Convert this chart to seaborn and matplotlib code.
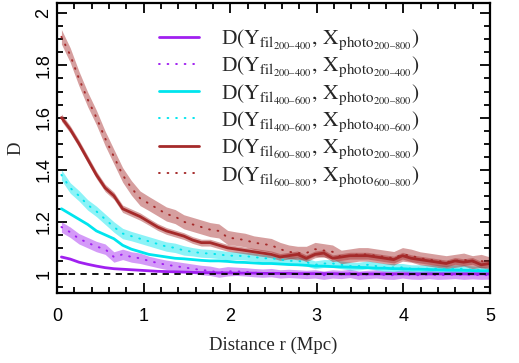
import numpy as np
import pandas as pd
import matplotlib
matplotlib.use("Agg")
import matplotlib.pyplot as plt
import seaborn as sns
from matplotlib.ticker import MultipleLocator

# Distance grid (Mpc)
r = np.linspace(0.05, 5.0, 50)

# D(Y_fil 200-400, X_photo 200-800) - purple solid
ps = [1.065, 1.057, 1.045, 1.037, 1.030, 1.024, 1.020, 1.018, 1.016, 1.014,
      1.012, 1.010, 1.009, 1.008, 1.007, 1.006, 1.005, 1.005, 1.004, 1.004,
      1.003, 1.003, 1.003, 1.002, 1.002, 1.002, 1.002, 1.001, 1.001, 1.001,
      1.001, 1.001, 1.000, 1.000, 1.000, 1.000, 1.000, 1.000, 1.000, 1.000,
      1.000, 1.000, 1.000, 1.000, 1.000, 1.000, 1.000, 1.000, 1.000, 1.000]
# D(Y_fil 200-400, X_photo 200-400) - purple dotted
pd_ = [1.180, 1.160, 1.135, 1.120, 1.105, 1.095, 1.065, 1.075, 1.065, 1.060,
       1.050, 1.042, 1.035, 1.030, 1.025, 1.020, 1.015, 1.012, 1.005, 1.010,
       1.010, 1.008, 1.005, 1.003, 1.005, 1.000, 1.002, 1.000, 0.998, 1.000,
       0.995, 1.000, 0.998, 1.002, 0.995, 0.998, 1.000, 0.996, 0.995, 1.000,
       0.996, 0.995, 0.998, 0.995, 0.996, 0.998, 0.995, 0.997, 0.995, 0.996]
pd_err = [0.020, 0.020, 0.020, 0.020, 0.020, 0.020, 0.020, 0.020, 0.020, 0.020,
          0.018, 0.018, 0.018, 0.018, 0.018, 0.018, 0.018, 0.018, 0.018, 0.018,
          0.016, 0.016, 0.016, 0.016, 0.016, 0.016, 0.016, 0.016, 0.016, 0.016,
          0.016, 0.016, 0.016, 0.016, 0.016, 0.016, 0.016, 0.016, 0.016, 0.016,
          0.016, 0.016, 0.016, 0.016, 0.016, 0.016, 0.016, 0.016, 0.016, 0.016]
# D(Y_fil 400-600, X_photo 200-800) - cyan solid
cs = [1.250, 1.230, 1.210, 1.190, 1.165, 1.150, 1.135, 1.110, 1.095, 1.085,
      1.075, 1.070, 1.065, 1.060, 1.058, 1.055, 1.052, 1.050, 1.050, 1.048,
      1.045, 1.044, 1.042, 1.040, 1.040, 1.038, 1.036, 1.035, 1.033, 1.030,
      1.030, 1.028, 1.027, 1.026, 1.025, 1.024, 1.022, 1.022, 1.020, 1.020,
      1.018, 1.018, 1.017, 1.016, 1.015, 1.015, 1.014, 1.013, 1.012, 1.012]
# D(Y_fil 400-600, X_photo 400-600) - cyan dotted
cd = [1.380, 1.330, 1.300, 1.265, 1.240, 1.210, 1.180, 1.155, 1.145, 1.135,
      1.125, 1.115, 1.105, 1.100, 1.090, 1.085, 1.080, 1.078, 1.075, 1.070,
      1.070, 1.068, 1.065, 1.060, 1.060, 1.055, 1.050, 1.050, 1.045, 1.035,
      1.040, 1.040, 1.035, 1.030, 1.030, 1.035, 1.030, 1.025, 1.025, 1.025,
      1.020, 1.020, 1.020, 1.020, 1.018, 1.020, 1.020, 1.015, 1.015, 1.010]
cd_err = [0.020, 0.020, 0.020, 0.020, 0.020, 0.020, 0.020, 0.020, 0.018, 0.018,
          0.018, 0.018, 0.018, 0.018, 0.018, 0.016, 0.016, 0.016, 0.016, 0.016,
          0.015, 0.015, 0.015, 0.015, 0.015, 0.015, 0.015, 0.015, 0.015, 0.015,
          0.015, 0.015, 0.015, 0.015, 0.015, 0.015, 0.015, 0.015, 0.015, 0.015,
          0.015, 0.015, 0.015, 0.015, 0.015, 0.015, 0.015, 0.015, 0.015, 0.015]
# D(Y_fil 600-800, X_photo 200-800) - brown solid
rs = [1.600, 1.555, 1.500, 1.440, 1.380, 1.330, 1.300, 1.250, 1.235, 1.220,
      1.200, 1.180, 1.165, 1.155, 1.145, 1.130, 1.120, 1.120, 1.110, 1.100,
      1.095, 1.090, 1.085, 1.080, 1.075, 1.065, 1.070, 1.075, 1.060, 1.075,
      1.080, 1.060, 1.065, 1.070, 1.070, 1.070, 1.065, 1.060, 1.055, 1.070,
      1.060, 1.055, 1.050, 1.045, 1.040, 1.050, 1.045, 1.050, 1.035, 1.040]
rs_err = [0.014, 0.014, 0.014, 0.014, 0.014, 0.014, 0.014, 0.014, 0.014, 0.014,
          0.013, 0.013, 0.013, 0.013, 0.013, 0.013, 0.013, 0.013, 0.013, 0.013,
          0.013, 0.013, 0.013, 0.013, 0.013, 0.013, 0.013, 0.013, 0.013, 0.013,
          0.013, 0.013, 0.013, 0.013, 0.013, 0.013, 0.013, 0.013, 0.013, 0.013,
          0.013, 0.013, 0.013, 0.013, 0.013, 0.013, 0.013, 0.013, 0.013, 0.013]
# D(Y_fil 600-800, X_photo 600-800) - brown dotted
rd = [1.910, 1.840, 1.750, 1.670, 1.600, 1.520, 1.450, 1.380, 1.330, 1.290,
      1.270, 1.250, 1.230, 1.220, 1.200, 1.190, 1.180, 1.170, 1.165, 1.140,
      1.135, 1.130, 1.120, 1.115, 1.110, 1.095, 1.085, 1.080, 1.080, 1.095,
      1.090, 1.085, 1.065, 1.070, 1.075, 1.075, 1.070, 1.065, 1.060, 1.075,
      1.070, 1.060, 1.055, 1.050, 1.045, 1.050, 1.055, 1.045, 1.050, 1.040]
rd_err = [0.028, 0.028, 0.028, 0.028, 0.028, 0.028, 0.028, 0.028, 0.028, 0.028,
          0.027, 0.027, 0.027, 0.027, 0.027, 0.027, 0.027, 0.027, 0.027, 0.027,
          0.026, 0.026, 0.026, 0.026, 0.026, 0.026, 0.026, 0.026, 0.026, 0.026,
          0.026, 0.026, 0.026, 0.026, 0.026, 0.026, 0.026, 0.026, 0.026, 0.026,
          0.025, 0.025, 0.025, 0.025, 0.025, 0.025, 0.025, 0.025, 0.025, 0.025]

fil_ranges = ["200–400", "200–400", "400–600", "400–600", "600–800", "600–800"]
photo_ranges = ["200–800", "200–400", "200–800", "400–600", "200–800", "600–800"]

purple = "#a020f0"
cyan = "#00e5ee"
brown = "#a52a2a"

sns.set_theme(style="ticks")
plt.rcParams["mathtext.fontset"] = "stix"
plt.rcParams["font.family"] = ["Liberation Sans", "DejaVu Sans"]

fig = plt.figure(figsize=(5.19, 3.63), dpi=100)
ax = fig.add_axes([0.110, 0.193, 0.834, 0.799])

# shaded error bands
ax.fill_between(r, np.array(pd_) - pd_err, np.array(pd_) + pd_err, color=purple, alpha=0.45, lw=0)
ax.fill_between(r, np.array(cd) - cd_err, np.array(cd) + cd_err, color=cyan, alpha=0.45, lw=0)
ax.fill_between(r, np.array(rs) - rs_err, np.array(rs) + rs_err, color=brown, alpha=0.45, lw=0)
ax.fill_between(r, np.array(rd) - rd_err, np.array(rd) + rd_err, color=brown, alpha=0.45, lw=0)

series = [(ps, purple, "-"), (pd_, purple, ":"), (cs, cyan, "-"),
          (cd, cyan, ":"), (rs, brown, "-"), (rd, brown, ":")]
for (vals, col, ls), f, p in zip(series, fil_ranges, photo_ranges):
    label = (r"D$\left(\mathrm{Y}_{\mathrm{fil}_{%s}},\,\mathrm{X}_{\mathrm{photo}_{%s}}\right)$"
             % (f, p))
    df = pd.DataFrame({"r": r, "D": vals})
    if ls == "-":
        sns.lineplot(data=df, x="r", y="D", ax=ax, color=col, lw=2.0, label=label)
    else:
        sns.lineplot(data=df, x="r", y="D", ax=ax, color=col, lw=1.4,
                     linestyle=(0, (0.4, 4.0)), dash_capstyle="round", label=label)

ax.axhline(1.0, color="black", lw=1.3, ls=(0, (3.5, 3)), zorder=5)

ax.set_xlim(0, 5)
ax.set_ylim(0.927, 2.04)
ax.xaxis.set_major_locator(MultipleLocator(1))
ax.xaxis.set_minor_locator(MultipleLocator(0.2))
ax.yaxis.set_major_locator(MultipleLocator(0.2))
ax.yaxis.set_minor_locator(MultipleLocator(0.05))
ax.set_yticks([1.0, 1.2, 1.4, 1.6, 1.8, 2.0])
ax.set_yticklabels(["1", "1.2", "1.4", "1.6", "1.8", "2"], rotation=90, va="center")
ax.tick_params(which="both", direction="in", top=True, right=True, width=1.3, labelsize=13, colors="black")
ax.tick_params(which="major", length=7)
ax.tick_params(which="minor", length=4.5)
ax.tick_params(axis="x", pad=11)
for sp in ax.spines.values():
    sp.set_linewidth(1.6)
    sp.set_color("black")

ax.set_xlabel("Distance r (Mpc)", fontfamily="Liberation Serif", fontsize=13.5, labelpad=8)
ax.set_ylabel("D", fontfamily="Liberation Serif", fontsize=13.5, labelpad=8)

leg = ax.legend(loc="upper left", bbox_to_anchor=(0.235, 0.915), frameon=False,
                fontsize=15.5, handlelength=1.85, handletextpad=1.05, labelspacing=0.13,
                borderaxespad=0, borderpad=0)
for t in leg.get_texts():
    t.set_fontfamily("Liberation Serif")

fig.savefig("out.png", dpi=100)
